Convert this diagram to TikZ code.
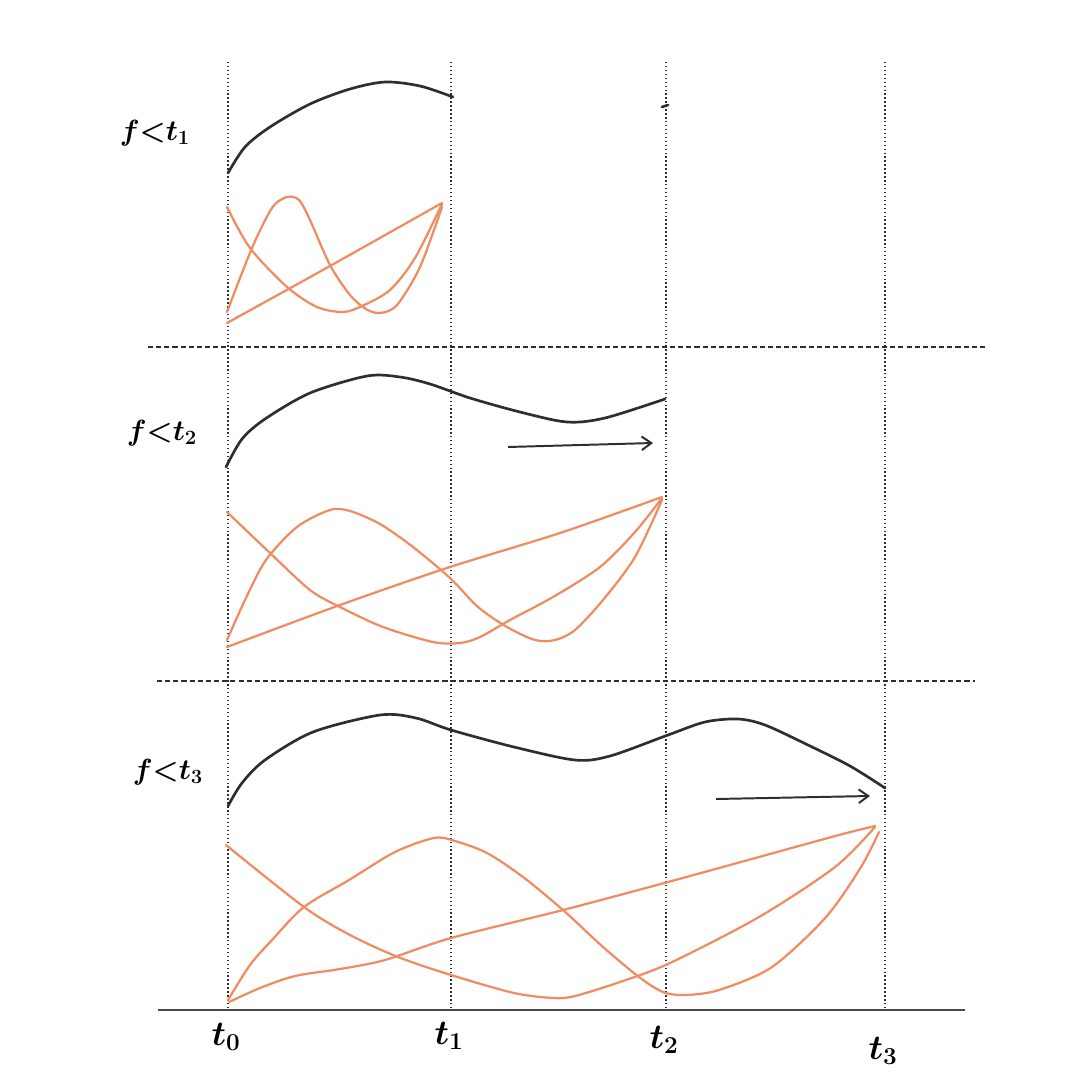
\documentclass[tikz,border=0pt]{standalone}
\usepackage{amsmath}
\usepackage{tikz}
\usetikzlibrary{arrows.meta,positioning}
\definecolor{SketchInk}{HTML}{2E2E2E}
\definecolor{SketchGray}{HTML}{4A4A4A}
\definecolor{SketchOrange}{HTML}{F08C62}
\tikzset{
  guide/.style={SketchInk, line width=1pt, dash pattern=on 1pt off 1.8pt},
  split/.style={SketchInk, line width=1pt, dash pattern=on 3.6pt off 2.2pt},
  axisline/.style={SketchGray, line width=1.6pt},
  target/.style={SketchInk, line width=1.9pt, line cap=round, line join=round},
  basis/.style={SketchOrange, line width=1.6pt, line cap=round, line join=round},
  slidearrow/.style={-{Straight Barb[length=2.4mm,width=3.4mm]}, SketchInk, line width=1.4pt},
  rowlabel/.style={font=\fontsize{22}{26}\selectfont\boldmath, text=black},
  ticklabel/.style={font=\fontsize{25}{29}\selectfont\boldmath, text=black},
}

\begin{document}
\begin{tikzpicture}[x=0.025cm, y=-0.025cm]
  \useasboundingbox (0,0) rectangle (1080,1085);

  % time grid
  \foreach \x/\n/\ly in {228/0/1037, 451/1/1036, 666/2/1040, 885/3/1051} {
    \coordinate (top\n) at (\x,62);
    \coordinate (bot\n) at (\x,1010);
    \draw[guide] (top\n) -- (bot\n);
    \node[ticklabel] (tick\n) at (\x-2,\ly) {$t_{\n}$};
  }
  \draw[split] (148,347) -- (985,347);
  \draw[split] (157,681) -- (975,681);
  \coordinate (axisL) at (158,1010);
  \coordinate (axisR) at (965,1010);
  \draw[axisline] (axisL) -- (axisR);

  % row 1: f < t1
  \node[rowlabel] (row1) at (155,133) {$f{<}t_1$};
  \draw[target] plot[smooth] coordinates {(228,173) (245,147) (270,127) (310,104)
    (350,89) (385,82) (420,86) (453,97)};
  \draw[target] (662,107) -- (668,105);
  \draw[basis] plot[smooth] coordinates {(227,207) (250,248) (287,287) (317,307)
    (343,312) (362,306) (390,290) (415,258) (442,204)};
  \draw[basis] plot[smooth] coordinates {(227,312) (252,248) (272,208) (287,197)
    (299,200) (310,220) (330,265) (350,295) (366,309) (380,313) (397,305)
    (420,267) (442,207)};
  \draw[basis] plot[smooth] coordinates {(227,323) (330,266) (442,203)};

  % row 2: f < t2
  \node[rowlabel] (row2) at (162,433) {$f{<}t_2$};
  \draw[target] plot[smooth] coordinates {(226,467) (242,439) (265,419) (310,393)
    (367,376) (400,377) (430,384) (470,398) (520,412) (567,422)
    (605,418) (665,399)};
  \coordinate (go2) at (508,447);
  \coordinate (to2) at (653,443);
  \draw[slidearrow] (go2) -- (to2);
  \draw[basis] plot[smooth] coordinates {(227,512) (270,553) (310,590) (340,607)
    (383,627) (433,642) (460,643) (480,637) (510,620) (553,597) (600,567)
    (635,532) (662,498)};
  \draw[basis] plot[smooth] coordinates {(227,640) (245,600) (266,560) (297,527)
    (330,510) (350,511) (380,524) (413,547) (450,578) (478,607) (507,627)
    (535,640) (555,640) (575,630) (603,600) (635,557) (662,500)};
  \draw[basis] plot[smooth] coordinates {(227,647) (340,605) (450,567) (560,533)
    (662,497)};

  % row 3: f < t3
  \node[rowlabel] (row3) at (168,772) {$f{<}t_3$};
  \draw[target] plot[smooth] coordinates {(228,806) (242,783) (265,760) (313,732)
    (380,715) (416,718) (451,730) (514,747) (575,760) (610,756) (668,735)
    (705,722) (738,719) (765,725) (808,745) (850,766) (885,788)};
  \coordinate (go3) at (716,799);
  \coordinate (to3) at (870,796);
  \draw[slidearrow] (go3) -- (to3);
  \draw[basis] plot[smooth] coordinates {(226,845) (304,907) (350,935) (398,957)
    (451,975) (514,993) (554,998) (575,996) (620,982) (670,963) (759,917)
    (835,867) (875,827)};
  \draw[basis] plot[smooth] coordinates {(228,1000) (250,965) (272,940) (304,907)
    (349,880) (395,852) (434,838) (455,841) (487,853) (523,877)
    (563,910) (603,947) (639,977) (663,992) (685,995) (719,990) (772,967)
    (826,917) (861,867) (879,832)};
  \draw[basis] plot[smooth] coordinates {(229,1002) (260,988) (295,976) (340,969)
    (385,960) (451,938) (563,910) (668,882) (759,857) (839,835)
    (875,826)};
\end{tikzpicture}
\end{document}
